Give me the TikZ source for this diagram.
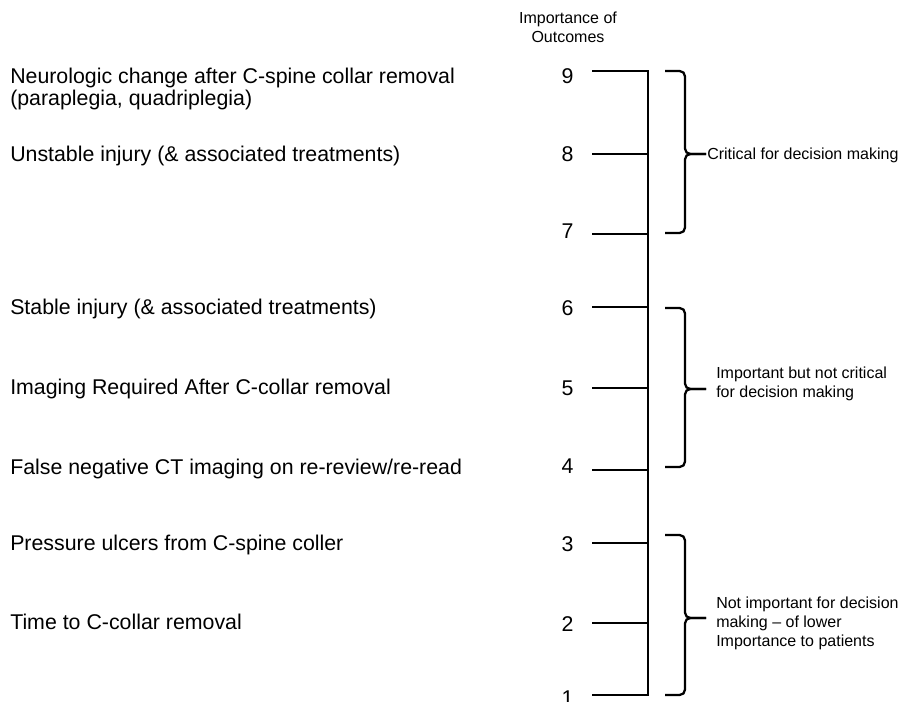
\documentclass[tikz,border=0pt]{standalone}
\usepackage{fontspec}
\setmainfont{Liberation Sans}
\usetikzlibrary{calc}

\begin{document}
\begin{tikzpicture}[x=0.75pt,y=-0.75pt,
  outcome/.style={anchor=base west,font=\fontsize{16}{16.5}\selectfont,align=left,inner sep=0pt},
  score/.style={anchor=base,font=\fontsize{16}{16.5}\selectfont,inner sep=0pt},
  note/.style={anchor=base west,font=\fontsize{12}{14.4}\selectfont,align=left,inner sep=0pt},
  tick/.style={line width=1.9pt},
  bracket/.style={line width=1.7pt,rounded corners=4pt}]
\useasboundingbox (0,0) rectangle (903,702);

\newcommand{\bracketright}[3]{
  \draw[bracket] (665,#1) -- (685,#1) -- (685,#3) -- (706,#3);
  \draw[bracket] (665,#2) -- (685,#2) -- (685,#3) -- (706,#3);
}

% scale axis
\coordinate (a9) at (648,71);
\coordinate (a8) at (648,154);
\coordinate (a7) at (648,234);
\coordinate (a6) at (648,307);
\coordinate (a5) at (648,388);
\coordinate (a4) at (648,470);
\coordinate (a3) at (648,543);
\coordinate (a2) at (648,623);
\coordinate (a1) at (648,695);

\draw[tick] ($(a9)+(-56,0)$) -- (a9) -- (a1) -- ++(-56,0);
\draw[tick] (a8) -- ++(-56,0);
\draw[tick] (a7) -- ++(-56,0);
\draw[tick] (a6) -- ++(-56,0);
\draw[tick] (a5) -- ++(-56,0);
\draw[tick] (a4) -- ++(-56,0);
\draw[tick] (a3) -- ++(-56,0);
\draw[tick] (a2) -- ++(-56,0);

% last line sits on the base anchor
\node[anchor=base,align=center,font=\fontsize{12}{14.4}\selectfont,inner sep=0pt] (head) at (568,42.7) {Importance of\\Outcomes};

\node[score] (s9) at (567.5,83.1) {9};
\node[score] (s8) at (567.5,161.6) {8};
\node[score] (s7) at (567.5,238.6) {7};
\node[score] (s6) at (567.5,315.6) {6};
\node[score] (s5) at (567.5,395.1) {5};
\node[score] (s4) at (567.5,473.1) {4};
\node[score] (s3) at (567.5,551.6) {3};
\node[score] (s2) at (567.5,631.1) {2};
\node[score] (s1) at (567.5,705.1) {1};

\node[outcome] (neuro) at (10,105.3) {Neurologic change after C-spine collar removal\\(paraplegia, quadriplegia)};
\node[outcome] (unstable) at (10,161.6) {Unstable injury (\& associated treatments)};
\node[outcome] (stable) at (10,314.6) {Stable injury (\& associated treatments)};
\node[outcome] (imaging) at (10,394.6) {Imaging Required After C-collar removal};
\node[outcome] (falseneg) at (10,474.6) {False negative CT imaging on re-review/re-read};
\node[outcome] (ulcers) at (10,550.6) {Pressure ulcers from C-spine coller};
\node[outcome] (time) at (10,629.6) {Time to C-collar removal};

% groups
\bracketright{71}{233}{154}
\bracketright{308}{467}{389}
\bracketright{535}{695}{618}

\node[note] (critical) at (707,159.7) {Critical for decision making};
\node[note] (important) at (716,397.9) {Important but not critical\\for decision making};
\node[note] (notimp) at (716,646.7) {Not important for decision\\making – of lower\\Importance to patients};

\end{tikzpicture}
\end{document}
